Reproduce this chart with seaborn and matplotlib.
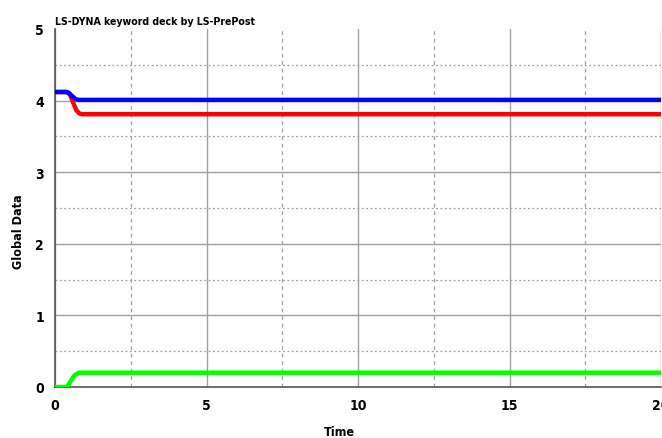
import numpy as np
import pandas as pd
import matplotlib
matplotlib.use("Agg")
import matplotlib.pyplot as plt
from matplotlib.ticker import MultipleLocator
from matplotlib import font_manager
import seaborn as sns

title = "LS-DYNA keyword deck by LS-PrePost"
x_label = "Time"
y_label = "Global Data"

blue_t = [0.0, 0.35, 0.45, 0.55, 0.65, 0.75, 20.0]
blue_v = [4.12, 4.12, 4.11, 4.07, 4.03, 4.01, 4.01]

red_t = [0.0, 0.4, 0.5, 0.6, 0.7, 0.8, 0.9, 20.0]
red_v = [4.12, 4.12, 4.08, 3.97, 3.87, 3.82, 3.81, 3.81]

green_t = [0.0, 0.4, 0.5, 0.6, 0.7, 0.8, 0.9, 20.0]
green_v = [0.0, 0.0, 0.07, 0.14, 0.18, 0.2, 0.2, 0.2]

series_colors = {"blue": "#0000ff", "red": "#ff0000", "green": "#00ff00"}

frames = []
for name, t, v in [("blue", blue_t, blue_v), ("red", red_t, red_v), ("green", green_t, green_v)]:
    frames.append(pd.DataFrame({"t": t, "v": v, "s": name}))
df = pd.concat(frames, ignore_index=True)

sns.set_theme(style="white")
cond = [f for f in font_manager.fontManager.ttflist
        if ("Narrow" in f.name or "Condensed" in f.name or f.stretch in ("condensed", "semi-condensed", 600, 700))]
if any(f.name == "Liberation Sans Narrow" for f in cond):
    fam = ["Liberation Sans Narrow", "DejaVu Sans"]
    stretch = "normal"
elif any("DejaVu Sans" in f.name and f.stretch not in ("normal", 500) for f in font_manager.fontManager.ttflist):
    fam = ["DejaVu Sans"]
    stretch = "condensed"
else:
    fam = ["Liberation Sans", "DejaVu Sans"]
    stretch = "normal"
plt.rcParams["font.family"] = fam
plt.rcParams["font.weight"] = "bold"
plt.rcParams["font.stretch"] = stretch
plt.rcParams["text.color"] = "black"
plt.rcParams["axes.labelcolor"] = "black"
plt.rcParams["xtick.color"] = "black"
plt.rcParams["ytick.color"] = "black"

fig = plt.figure(figsize=(6.62, 4.39), dpi=100)
ax = fig.add_axes([55 / 662, 1 - 388 / 439, (661 - 55) / 662, (388 - 30) / 439])

sns.lineplot(data=df, x="t", y="v", hue="s", palette=series_colors,
             hue_order=["green", "red", "blue"], linewidth=3.2, legend=False,
             ax=ax, zorder=5, sort=False, estimator=None)

ax.set_xlim(0, 20)
ax.set_ylim(0, 5)
ax.xaxis.set_major_locator(MultipleLocator(5))
ax.xaxis.set_minor_locator(MultipleLocator(2.5))
ax.yaxis.set_major_locator(MultipleLocator(1))
ax.yaxis.set_minor_locator(MultipleLocator(0.5))

ax.grid(which="major", color="#a0a0a0", linestyle="-", linewidth=1.0)
ax.xaxis.grid(which="minor", color="#a0a0a0", linestyle=(0, (3, 3)), linewidth=0.9)
ax.yaxis.grid(which="minor", color="#a0a0a0", linestyle=(0, (1.5, 2)), linewidth=0.9)
for gl in ax.get_ygridlines():
    if abs(gl.get_ydata()[0] - 5) < 1e-6:
        gl.set_visible(False)

for s in ["top", "right"]:
    ax.spines[s].set_visible(False)
for s in ["left", "bottom"]:
    ax.spines[s].set_color("#555555")
    ax.spines[s].set_linewidth(1.2)

ax.tick_params(which="major", direction="inout", length=10, width=1.0, color="#555555",
               labelcolor="black", labelsize=10, pad=3)
ax.tick_params(which="minor", direction="in", length=4, width=0.8, color="#555555")
for lab in ax.get_xticklabels() + ax.get_yticklabels():
    lab.set_fontweight("bold")

ax.set_xlabel(x_label, fontsize=9, fontweight="bold", color="black")
ax.set_ylabel(y_label, fontsize=9, fontweight="bold", color="black")
ax.xaxis.set_label_coords(0.47, -0.123)
ax.yaxis.set_label_coords(-0.061, 0.436)
ax.xaxis.label.set_verticalalignment("center")
ax.yaxis.label.set_verticalalignment("center")
ax.text(0.0, 1.008, title, transform=ax.transAxes, fontsize=7.6, color="black",
        fontweight="bold", ha="left", va="bottom")

fig.savefig("out.png", dpi=100)
